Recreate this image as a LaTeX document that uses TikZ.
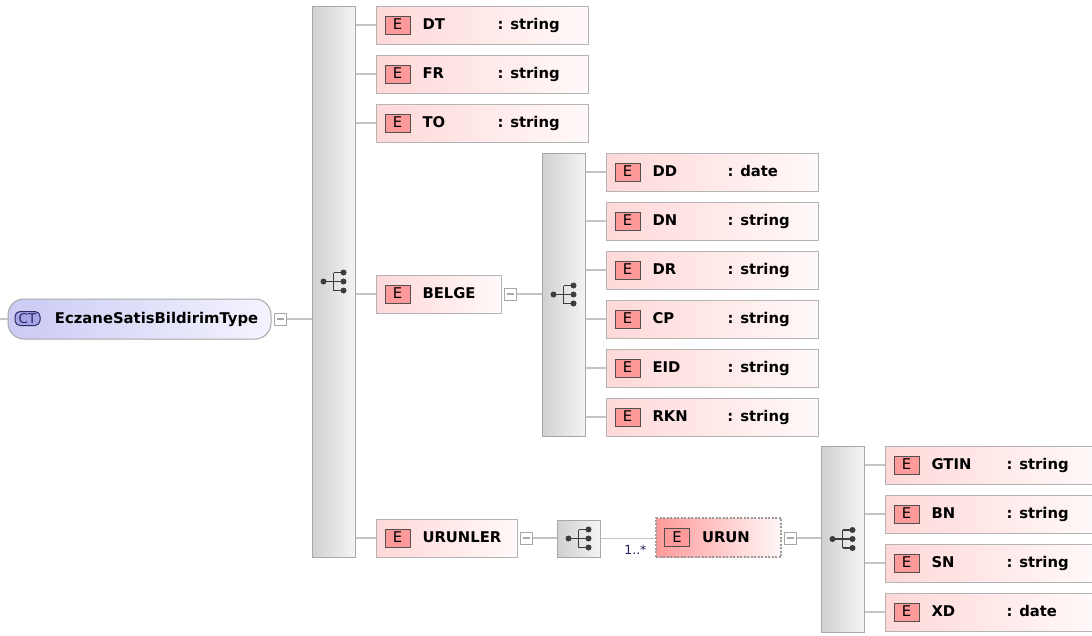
\documentclass[tikz,border=0pt]{standalone}
\usepackage{fontspec}
\setmainfont{DejaVu Sans}
\usetikzlibrary{positioning}

\definecolor{elemleft}{HTML}{FFD8D8}
\definecolor{elemright}{HTML}{FFF9F9}
\definecolor{elemline}{HTML}{B4B4B4}
\definecolor{badgefill}{HTML}{FF9A9A}
\definecolor{badgeline}{HTML}{505050}
\definecolor{barleft}{HTML}{D0D0D0}
\definecolor{barright}{HTML}{F4F4F4}
\definecolor{barline}{HTML}{A8A8A8}
\definecolor{ctleft}{HTML}{CACAF4}
\definecolor{ctright}{HTML}{F4F4FF}
\definecolor{ctbadgefill}{HTML}{A6A6E6}
\definecolor{ctbadgeline}{HTML}{2A2A66}
\definecolor{linkcolor}{HTML}{C4C4C4}
\definecolor{iconcolor}{HTML}{3C3C3C}
\definecolor{urunleft}{HTML}{FF9A9A}
\definecolor{urunright}{HTML}{FFF6F6}
\definecolor{dashline}{HTML}{9A9A9A}
\definecolor{multcolor}{HTML}{20205A}

\newcommand{\diagfont}{\fontsize{14.8}{17}\selectfont}
\newcommand{\ebadge}{{\setlength{\fboxsep}{0pt}\setlength{\fboxrule}{1pt}%
  \fcolorbox{badgeline}{badgefill}{\makebox[24pt]{\rule[-4pt]{0pt}{17pt}\mdseries E}}}}
\newcommand{\elem}[3]{\makebox[#1][l]{\ebadge\hspace{12pt}\makebox[75pt][l]{#2}#3}}

\tikzset{
  elem/.style={draw=elemline, line width=1pt, left color=elemleft, right color=elemright,
    inner xsep=8pt, inner ysep=0pt, minimum height=38pt, anchor=west, font=\diagfont\bfseries},
  urunbox/.style={left color=urunleft, right color=urunright, draw=dashline,
    dash pattern=on 2pt off 1.5pt, line width=2pt, minimum height=39pt},
  seqbar/.style={draw=barline, line width=1pt, left color=barleft, right color=barright,
    minimum width=43pt, inner sep=0pt,
    path picture={
      \begin{scope}[shift={(path picture bounding box.center)}, iconcolor, line width=1.3pt]
        \draw (-10,0) -- (10,0) (0,-9) -- (0,9) (0,-9) -- (10,-9) (0,9) -- (10,9);
        \fill (-10,0) circle (3pt) (10,-9) circle (3pt) (10,0) circle (3pt) (10,9) circle (3pt);
      \end{scope}}},
  minusbox/.style={draw=barline, fill=white, minimum size=12pt, inner sep=0pt, line width=1pt,
    path picture={\draw[barline, line width=1.2pt]
      ([xshift=-3.5pt]path picture bounding box.center) -- ([xshift=3.5pt]path picture bounding box.center);}},
  ctype/.style={draw=barline, line width=1pt, left color=ctleft, right color=ctright,
    rounded corners=16pt, inner xsep=8pt, minimum height=40pt, font=\diagfont\bfseries},
  ctbadge/.style={draw=ctbadgeline, fill=ctbadgefill, line width=1pt, rounded corners=5pt,
    minimum width=25pt, minimum height=14pt, inner sep=0pt, text=ctbadgeline,
    font=\fontsize{13.5}{15}\selectfont},
  link/.style={draw=linkcolor, line width=1.3pt}
}

\begin{document}
\begin{tikzpicture}[x=1pt, y=-1pt]
\path[use as bounding box, fill=white] (0,0) rectangle (1092,635);

% complex type
\coordinate (in) at (0,319);
\node (ct) [ctype] at (139.5,319) {\makebox[247pt][l]{\hspace{39pt}EczaneSatisBildirimType}};
\node (ctb) [ctbadge] at (27.5,318.5) {CT};
\node (mct) [minusbox] at (280.5,319) {};

% first sequence
\node (seq1) [seqbar, minimum height=551pt] at (333.5,281.5) {};
\node (edt) [elem] at (376,25) {\elem{196pt}{DT}{: string}};
\node (efr) [elem] at (376,74) {\elem{196pt}{FR}{: string}};
\node (eto) [elem] at (376,123) {\elem{196pt}{TO}{: string}};
\node (ebelge) [elem] at (376,294) {\elem{109pt}{BELGE}{}};
\node (eurunler) [elem] at (376,538) {\elem{125pt}{URUNLER}{}};
\node (mbelge) [minusbox] at (510.5,294) {};
\node (murunler) [minusbox] at (526,538) {};

% BELGE sequence
\node (seq2) [seqbar, minimum height=283pt] at (563.5,294.5) {};
\node (edd) [elem] at (606,172) {\elem{196pt}{DD}{: date}};
\node (edn) [elem] at (606,221) {\elem{196pt}{DN}{: string}};
\node (edr) [elem] at (606,270) {\elem{196pt}{DR}{: string}};
\node (ecp) [elem] at (606,319) {\elem{196pt}{CP}{: string}};
\node (eeid) [elem] at (606,368) {\elem{196pt}{EID}{: string}};
\node (erkn) [elem] at (606,417) {\elem{196pt}{RKN}{: string}};

% URUNLER sequence
\node (seqbox) [seqbar, minimum height=37pt] at (578.5,538.5) {};
\node (eurun) [elem, urunbox] at (655,537.5) {\makebox[109pt][l]{\ebadge\hspace{12pt}URUN}};
\node (mult) [anchor=base east, text=multcolor, font=\fontsize{12.5}{14}\selectfont] at (650,554) {1..*};
\node (murun) [minusbox] at (790,538) {};

% URUN sequence
\node (seq3) [seqbar, minimum height=186pt] at (842.5,539) {};
\node (egtin) [elem] at (885,465) {\elem{196pt}{GTIN}{: string}};
\node (ebn) [elem] at (885,514) {\elem{196pt}{BN}{: string}};
\node (esn) [elem] at (885,563) {\elem{196pt}{SN}{: string}};
\node (exd) [elem] at (885,612) {\elem{196pt}{XD}{: date}};

% connectors
\draw[link] (in) -- (ct.west);
\draw[link] (mct) -- (mct -| seq1.west);
\draw[link] (seq1.east |- edt.west) -- (edt.west) (seq1.east |- efr.west) -- (efr.west)
  (seq1.east |- eto.west) -- (eto.west) (seq1.east |- ebelge.west) -- (ebelge.west)
  (seq1.east |- eurunler.west) -- (eurunler.west);
\draw[link] (mbelge) -- (mbelge -| seq2.west);
\draw[link] (seq2.east |- edd.west) -- (edd.west) (seq2.east |- edn.west) -- (edn.west)
  (seq2.east |- edr.west) -- (edr.west) (seq2.east |- ecp.west) -- (ecp.west)
  (seq2.east |- eeid.west) -- (eeid.west) (seq2.east |- erkn.west) -- (erkn.west);
\draw[link] (murunler) -- (murunler -| seqbox.west);
\draw[link] (seqbox.east) -- (seqbox.east -| eurun.west);
\draw[link] (murun) -- (murun -| seq3.west);
\draw[link] (seq3.east |- egtin.west) -- (egtin.west) (seq3.east |- ebn.west) -- (ebn.west)
  (seq3.east |- esn.west) -- (esn.west) (seq3.east |- exd.west) -- (exd.west);
\end{tikzpicture}
\end{document}
